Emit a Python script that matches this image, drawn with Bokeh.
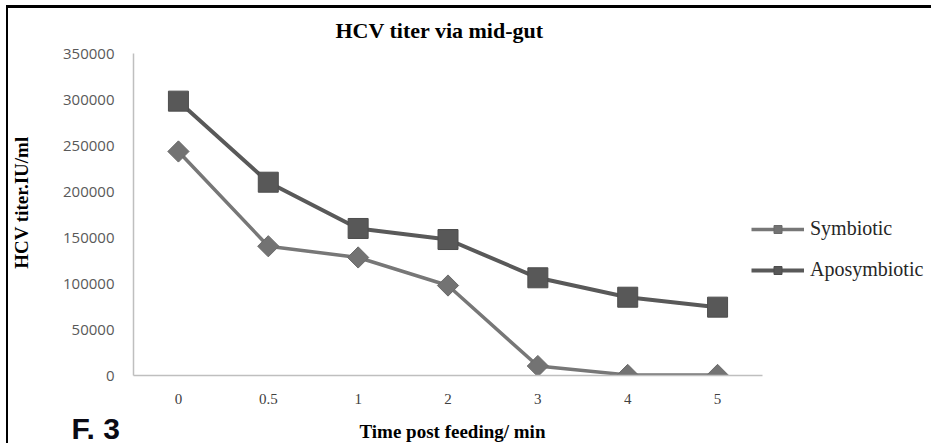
from bokeh.plotting import figure
from bokeh.models import FactorRange, FixedTicker, NumeralTickFormatter, Legend, LegendItem, Title
from bokeh.embed import file_html
from bokeh.resources import INLINE
import math

categories = ["0", "0.5", "1", "2", "3", "4", "5"]
symbiotic = [243500, 140500, 128300, 97800, 10300, 600, 600]
aposymbiotic = [298200, 210100, 159800, 147800, 106200, 85100, 74300]
y_ticks = [0, 50000, 100000, 150000, 200000, 250000, 300000, 350000]

p = figure(width=925, height=438, frame_width=629, output_backend="svg", toolbar_location=None,
           x_range=FactorRange(factors=categories, range_padding=0),
           y_range=(0, 350000),
           min_border_left=123, min_border_right=173, min_border_top=45, min_border_bottom=71)
p.styles = {"border-top": "3px solid black", "border-left": "2px solid black",
            "margin-top": "5px", "margin-left": "6px",
            "max-width": "925px", "overflow": "hidden"}
p.background_fill_color = "white"
p.border_fill_color = "white"
p.outline_line_color = None
p.grid.grid_line_color = None

p.title.text = "HCV titer via mid-gut"
p.title.align = "left"
p.title.offset = 202
p.title.vertical_align = "top"
p.title.text_font = "Liberation Serif"
p.title.text_font_size = "22px"
p.title.text_font_style = "bold"
p.title.text_color = "black"
p.title.standoff = 17

for ax in (p.xaxis[0], p.yaxis[0]):
    ax.axis_line_color = "#bfbfbf"
    ax.axis_line_width = 1.5
    ax.major_tick_line_color = None
    ax.minor_tick_line_color = None
    ax.axis_label_text_font = "Liberation Serif"
    ax.axis_label_text_font_style = "bold"
    ax.axis_label_text_color = "black"

p.yaxis.ticker = FixedTicker(ticks=y_ticks)
p.yaxis.formatter = NumeralTickFormatter(format="0")
p.yaxis.major_tick_out = 0
p.yaxis.major_label_text_font = "Open Sans"
p.yaxis.major_label_text_font_size = "15px"
p.yaxis.major_label_text_color = "#595959"
p.yaxis.major_label_standoff = 19
p.yaxis.axis_label = "\u00a0\u00a0\u00a0\u00a0\u00a0HCV titer.IU/ml"
p.yaxis.axis_label_text_font_size = "19px"
p.yaxis.axis_label_standoff = 28

p.xaxis.major_tick_out = 6
p.xaxis.major_label_standoff = 12
p.xaxis.major_label_text_font = "Liberation Serif"
p.xaxis.major_label_text_font_size = "15px"
p.xaxis.major_label_text_color = "#404040"
p.xaxis.axis_label = "\u00a0"
p.xaxis.axis_label_text_font_size = "10px"
p.xaxis.axis_label_standoff = 6

fig_tag = Title(text="F. 3", align="left", offset=-62, standoff=-28.5,
                vertical_align="top", text_font="Liberation Sans",
                text_font_style="bold", text_font_size="30px", text_color="#0a0a14")
p.add_layout(fig_tag, "below")

x_title = Title(text="Time post feeding/ min", align="left", offset=226, vertical_align="top",
                standoff=-25, text_font="Liberation Serif", text_font_style="bold",
                text_font_size="19px", text_color="black")
p.add_layout(x_title, "below")

l1 = p.line(categories, symbiotic, line_color="#777777", line_width=3.5)
s1 = p.scatter(categories, symbiotic, marker="square", angle=math.pi / 4, size=15,
               fill_color="#737373", line_color="#6a6a6a", line_width=1)
l2 = p.line(categories, aposymbiotic, line_color="#595959", line_width=4)
s2 = p.scatter(categories, aposymbiotic, marker="square", size=20,
               fill_color="#585858", line_color="#4d4d4d", line_width=1)

legend = Legend(items=[LegendItem(label="Symbiotic", renderers=[l1, s1]),
                       LegendItem(label="Aposymbiotic", renderers=[l2, s2])],
                location=(-11, 94), orientation="vertical",
                glyph_width=53, glyph_height=20, label_height=20, spacing=18,
                label_standoff=6, padding=0, margin=0,
                border_line_color=None, background_fill_alpha=0,
                label_text_font="Liberation Serif", label_text_font_size="20px",
                label_text_color="#262626")
p.add_layout(legend, "right")

open("out.html", "w").write(file_html(p, INLINE))
